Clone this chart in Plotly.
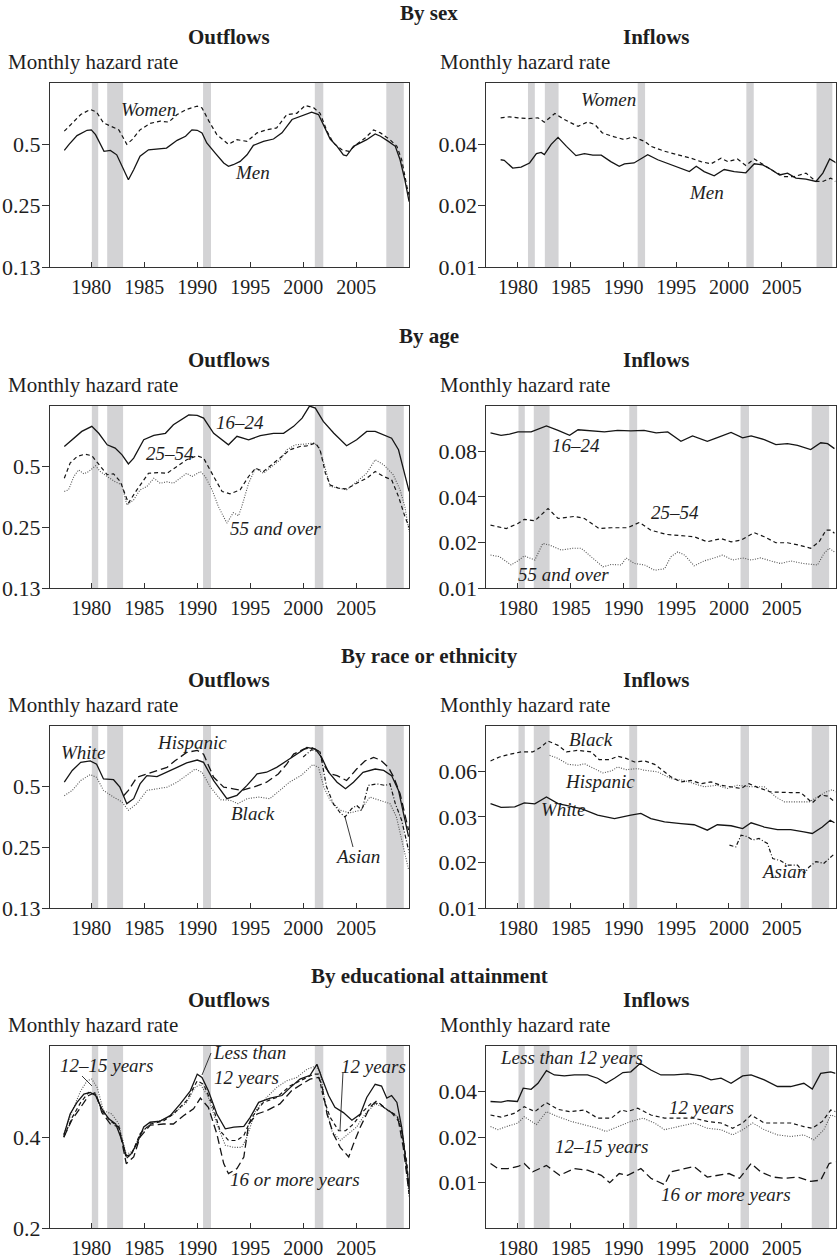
import math
import plotly.graph_objects as go

W, H = 838, 1260
FONT = "Liberation Serif, Times New Roman, serif"
TXT = "#1e1e1e"
SHADE = "#d3d3d5"

# ---------------- data ----------------
YEAR_TICKS = [1980, 1985, 1990, 1995, 2000, 2005]
RECESSIONS = [(1980.05, 1980.65), (1981.5, 1983.0), (1990.55, 1991.3), (2001.1, 2001.9), (2007.85, 2009.5)]
RECESSIONS_SEX_INFLOWS = [(1980.95, 1981.6), (1982.55, 1983.85), (1991.35, 1992.05), (2001.65, 2002.35), (2008.3, 2009.8)]

OUT_TICKS = [0.125, 0.25, 0.5]
OUT_TICKTEXT = ["0.13", "0.25", "0.5"]
SEX_IN_TICKS = [0.01, 0.02, 0.04]
SEX_IN_TICKTEXT = ["0.01", "0.02", "0.04"]
AGE_IN_TICKS = [0.01, 0.02, 0.04, 0.08]
AGE_IN_TICKTEXT = ["0.01", "0.02", "0.04", "0.08"]
RACE_IN_TICKS = [0.0075, 0.015, 0.03, 0.06]
RACE_IN_TICKTEXT = ["0.01", "0.02", "0.03", "0.06"]
EDU_OUT_TICKS = [0.2, 0.4]
EDU_OUT_TICKTEXT = ["0.2", "0.4"]
EDU_IN_TICKS = [0.01, 0.02, 0.04]
EDU_IN_TICKTEXT = ["0.01", "0.02", "0.04"]

# By sex, outflows
sex_out_men = [(1977.45, 0.467), (1977.9, 0.5), (1978.65, 0.552), (1979.6, 0.586), (1980.0, 0.589), (1980.4, 0.558),
               (1981.2, 0.462), (1981.8, 0.467), (1982.4, 0.444), (1982.9, 0.39), (1983.5, 0.335), (1984.0, 0.375),
               (1984.6, 0.437), (1985.4, 0.47), (1986.2, 0.476), (1987.1, 0.479), (1988.1, 0.523), (1988.9, 0.548),
               (1989.5, 0.589), (1990.0, 0.586), (1990.45, 0.569), (1990.9, 0.508), (1991.7, 0.453), (1992.5, 0.405),
               (1992.95, 0.39), (1993.4, 0.397), (1994.05, 0.412), (1994.7, 0.444), (1995.3, 0.494), (1996.25, 0.517),
               (1997.2, 0.531), (1998.0, 0.569), (1998.95, 0.662), (1999.7, 0.687), (2000.8, 0.72), (2001.45, 0.70),
               (2001.9, 0.625), (2002.55, 0.531), (2003.2, 0.489), (2003.8, 0.444), (2004.1, 0.439), (2004.75, 0.489),
               (2005.4, 0.508), (2006.0, 0.527), (2006.8, 0.562), (2007.3, 0.548), (2008.05, 0.517), (2008.7, 0.489),
               (2009.15, 0.42), (2009.6, 0.335), (2010.0, 0.262)]
sex_out_women = [(1977.45, 0.58), (1978.2, 0.637), (1979.0, 0.70), (1979.9, 0.742), (1980.5, 0.72), (1981.15, 0.637),
                 (1981.9, 0.614), (1982.6, 0.589), (1983.35, 0.50), (1983.85, 0.527), (1984.6, 0.589), (1985.55, 0.633),
                 (1986.5, 0.65), (1987.3, 0.643), (1988.1, 0.70), (1989.0, 0.742), (1990.0, 0.77), (1990.45, 0.755),
                 (1991.1, 0.65), (1991.85, 0.558), (1992.95, 0.50), (1993.75, 0.527), (1994.7, 0.517), (1995.65, 0.569),
                 (1996.55, 0.589), (1997.5, 0.602), (1998.45, 0.70), (1999.4, 0.71), (2000.2, 0.776), (2001.0, 0.755),
                 (2001.6, 0.71), (2002.25, 0.58), (2002.85, 0.508), (2003.65, 0.47), (2004.3, 0.462), (2005.05, 0.50),
                 (2005.85, 0.537), (2006.65, 0.589), (2007.3, 0.569), (2008.2, 0.527), (2008.85, 0.489), (2009.3, 0.42),
                 (2009.8, 0.31), (2010.0, 0.282)]

# By sex, inflows
sex_in_women = [(1978.36, 0.054), (1979.2, 0.0546), (1980.0, 0.054), (1980.95, 0.0535), (1981.9, 0.054), (1982.5, 0.0514),
                (1983.5, 0.0567), (1984.4, 0.0529), (1985.7, 0.049), (1986.6, 0.0515), (1987.3, 0.05), (1988.0, 0.0455),
                (1989.15, 0.0435), (1990.1, 0.0422), (1990.9, 0.0435), (1992.0, 0.0414), (1992.6, 0.0391), (1993.9, 0.037),
                (1995.1, 0.0356), (1996.4, 0.0342), (1997.35, 0.0329), (1998.3, 0.0321), (1999.25, 0.0342), (1999.9, 0.0329),
                (2000.8, 0.0339), (2001.6, 0.0315), (2002.4, 0.0339), (2003.35, 0.0317), (2004.3, 0.0294), (2005.25, 0.0278),
                (2006.2, 0.0278), (2007.3, 0.0289), (2008.25, 0.0263), (2008.9, 0.0263), (2009.65, 0.0273), (2010.1, 0.0263)]
sex_in_men = [(1978.36, 0.0336), (1978.7, 0.0334), (1979.5, 0.0306), (1980.3, 0.0309), (1981.1, 0.0324), (1981.75, 0.036),
              (1982.2, 0.0365), (1982.5, 0.0356), (1983.15, 0.04), (1983.8, 0.0433), (1984.6, 0.0391), (1985.5, 0.0352),
              (1986.3, 0.036), (1987.1, 0.0354), (1987.9, 0.0354), (1988.8, 0.0329), (1989.6, 0.0312), (1990.1, 0.0321),
              (1991.0, 0.0324), (1992.3, 0.0356), (1993.25, 0.0336), (1994.5, 0.0317), (1995.45, 0.0306), (1996.25, 0.0294),
              (1996.9, 0.0312), (1997.65, 0.0294), (1998.6, 0.028), (1999.55, 0.0301), (2000.5, 0.0294), (2001.6, 0.029),
              (2002.4, 0.0321), (2003.2, 0.0317), (2004.0, 0.0301), (2004.8, 0.0283), (2005.55, 0.0289), (2006.35, 0.0273),
              (2007.3, 0.027), (2008.25, 0.0263), (2008.9, 0.0289), (2009.55, 0.0339), (2010.2, 0.0324)]

# By age, outflows
age_out_16_24 = [(1977.45, 0.628), (1978.2, 0.678), (1979.1, 0.746), (1980.05, 0.79), (1980.7, 0.73), (1981.5, 0.64),
                 (1982.25, 0.617), (1982.9, 0.571), (1983.5, 0.515), (1984.0, 0.55), (1984.95, 0.678), (1985.9, 0.712),
                 (1987.0, 0.73), (1987.75, 0.805), (1989.2, 0.9), (1990.0, 0.895), (1990.6, 0.868), (1991.55, 0.73),
                 (1992.95, 0.64), (1993.75, 0.705), (1994.85, 0.678), (1995.95, 0.71), (1997.2, 0.73), (1998.15, 0.73),
                 (1999.1, 0.79), (1999.9, 0.868), (2000.6, 0.995), (2001.15, 0.973), (2001.9, 0.836), (2002.9, 0.73),
                 (2004.1, 0.633), (2005.05, 0.678), (2006.0, 0.746), (2006.8, 0.746), (2007.6, 0.718), (2008.35, 0.69),
                 (2009.0, 0.605), (2009.45, 0.481), (2010.0, 0.376)]
age_out_25_54 = [(1977.45, 0.437), (1978.0, 0.52), (1978.65, 0.56), (1979.4, 0.575), (1980.05, 0.565), (1980.7, 0.51),
                 (1981.5, 0.455), (1982.1, 0.46), (1982.75, 0.42), (1983.5, 0.329), (1984.3, 0.383), (1985.4, 0.463),
                 (1986.35, 0.466), (1987.15, 0.463), (1988.1, 0.5), (1989.0, 0.54), (1990.0, 0.565), (1990.6, 0.55),
                 (1991.55, 0.446), (1992.35, 0.376), (1993.1, 0.366), (1994.05, 0.383), (1994.85, 0.446), (1995.5, 0.49),
                 (1996.25, 0.472), (1997.05, 0.51), (1997.85, 0.55), (1998.75, 0.605), (1999.7, 0.628), (2000.35, 0.633),
                 (2001.15, 0.653), (2001.6, 0.605), (2002.1, 0.463), (2002.55, 0.405), (2003.35, 0.39), (2004.1, 0.387),
                 (2005.05, 0.413), (2006.0, 0.437), (2006.8, 0.472), (2007.6, 0.446), (2008.35, 0.43), (2009.0, 0.355),
                 (2009.6, 0.283), (2010.0, 0.25)]
age_out_55 = [(1977.45, 0.376), (1977.85, 0.383), (1978.35, 0.446), (1978.8, 0.481), (1979.3, 0.46), (1979.75, 0.472),
              (1980.4, 0.504), (1980.85, 0.472), (1981.5, 0.446), (1982.25, 0.42), (1982.9, 0.405), (1983.35, 0.322),
              (1984.0, 0.342), (1984.6, 0.383), (1985.25, 0.398), (1985.9, 0.437), (1986.5, 0.413), (1987.15, 0.42),
              (1987.75, 0.413), (1988.55, 0.446), (1989.0, 0.463), (1989.5, 0.446), (1990.3, 0.472), (1990.75, 0.446),
              (1991.4, 0.383), (1992.0, 0.316), (1992.8, 0.262), (1993.4, 0.295), (1993.9, 0.285), (1994.2, 0.316),
              (1994.85, 0.413), (1995.5, 0.49), (1996.25, 0.463), (1997.05, 0.5), (1997.85, 0.54), (1998.45, 0.605),
              (1999.25, 0.64), (2000.05, 0.645), (2001.0, 0.653), (2001.45, 0.628), (2001.95, 0.52), (2002.55, 0.398),
              (2003.35, 0.39), (2004.1, 0.383), (2005.05, 0.42), (2006.0, 0.463), (2006.8, 0.54), (2007.6, 0.51),
              (2008.5, 0.455), (2009.15, 0.383), (2009.6, 0.316), (2010.0, 0.238)]

# By age, inflows
age_in_16_24 = [(1977.4, 0.1057), (1978.4, 0.102), (1979.2, 0.1037), (1980.0, 0.1073), (1981.25, 0.1073), (1982.7, 0.1175),
                (1983.8, 0.11), (1984.9, 0.102), (1985.7, 0.111), (1986.95, 0.109), (1988.2, 0.1073), (1989.45, 0.11),
                (1990.7, 0.109), (1991.95, 0.11), (1993.1, 0.1057), (1994.2, 0.1073), (1995.45, 0.0931), (1996.55, 0.101),
                (1997.95, 0.0931), (1998.9, 0.0984), (2000.2, 0.1065), (2001.3, 0.098), (2002.1, 0.101), (2003.35, 0.0955),
                (2004.45, 0.0885), (2005.55, 0.0898), (2006.5, 0.0876), (2007.75, 0.082), (2008.7, 0.091), (2009.35, 0.0898),
                (2010.0, 0.0833)]
age_in_25_54 = [(1977.4, 0.026), (1978.9, 0.0247), (1980.0, 0.0267), (1980.6, 0.0284), (1981.6, 0.0278), (1982.85, 0.0335),
                (1983.8, 0.0288), (1985.35, 0.0297), (1986.3, 0.0288), (1987.7, 0.0247), (1988.85, 0.025), (1990.4, 0.025),
                (1991.5, 0.0271), (1992.6, 0.0241), (1994.05, 0.0226), (1995.45, 0.0221), (1996.7, 0.0218), (1997.95, 0.0202),
                (1999.25, 0.0212), (2000.2, 0.0202), (2001.15, 0.0207), (2002.4, 0.0232), (2003.35, 0.0218), (2004.45, 0.0199),
                (2005.55, 0.0199), (2006.65, 0.0192), (2007.75, 0.0183), (2008.55, 0.0202), (2009.2, 0.0241), (2009.65, 0.0241),
                (2010.0, 0.023)]
age_in_55 = [(1977.4, 0.0165), (1978.25, 0.0161), (1979.35, 0.0142), (1980.0, 0.0151), (1980.6, 0.0163), (1981.6, 0.0153),
             (1982.35, 0.0197), (1983.0, 0.0192), (1984.1, 0.0178), (1985.2, 0.0183), (1986.0, 0.0183), (1987.25, 0.0153),
             (1988.05, 0.0138), (1988.85, 0.0143), (1989.8, 0.0142), (1990.25, 0.0158), (1991.05, 0.0145), (1992.0, 0.0142),
             (1992.95, 0.0131), (1993.9, 0.0134), (1994.5, 0.0161), (1995.15, 0.0173), (1995.8, 0.0165), (1996.7, 0.014),
             (1997.65, 0.0151), (1998.6, 0.0158), (1999.4, 0.0165), (2000.35, 0.0153), (2001.3, 0.0158), (2002.1, 0.0153),
             (2003.0, 0.0158), (2003.95, 0.0151), (2004.9, 0.0145), (2005.85, 0.0151), (2007.1, 0.0145), (2008.4, 0.0142),
             (2009.0, 0.0169), (2009.5, 0.0183), (2010.0, 0.0173)]

# By race or ethnicity, outflows
race_out_white = [(1977.45, 0.525), (1978.2, 0.6), (1979.0, 0.658), (1979.9, 0.67), (1980.5, 0.645), (1981.15, 0.545),
                  (1982.1, 0.54), (1982.7, 0.496), (1983.35, 0.411), (1984.0, 0.435), (1984.6, 0.515), (1985.25, 0.566),
                  (1986.2, 0.56), (1987.15, 0.588), (1988.1, 0.622), (1989.0, 0.654), (1990.0, 0.676), (1990.6, 0.658),
                  (1991.55, 0.535), (1992.8, 0.435), (1993.75, 0.452), (1994.7, 0.506), (1995.65, 0.577), (1996.55, 0.588),
                  (1997.5, 0.622), (1998.45, 0.67), (1999.4, 0.723), (2000.35, 0.78), (2001.15, 0.765), (2001.75, 0.696),
                  (2002.4, 0.588), (2003.2, 0.525), (2004.0, 0.487), (2004.75, 0.525), (2005.65, 0.588), (2006.8, 0.61),
                  (2007.6, 0.6), (2008.35, 0.566), (2009.0, 0.478), (2009.45, 0.367), (2009.95, 0.282)]
race_out_hispanic = [(1983.05, 0.45), (1983.5, 0.478), (1984.3, 0.555), (1985.25, 0.577), (1986.2, 0.6), (1987.15, 0.622),
                     (1987.9, 0.67), (1989.0, 0.737), (1990.0, 0.755), (1990.6, 0.723), (1991.55, 0.555), (1992.5, 0.496),
                     (1993.4, 0.487), (1994.2, 0.478), (1995.3, 0.496), (1996.55, 0.525), (1997.65, 0.577), (1998.45, 0.645),
                     (1999.1, 0.723), (2000.05, 0.765), (2000.8, 0.78), (2001.45, 0.75), (2002.1, 0.622), (2002.55, 0.577),
                     (2003.2, 0.566), (2004.1, 0.535), (2005.05, 0.61), (2005.85, 0.67), (2006.65, 0.696), (2007.3, 0.676),
                     (2008.05, 0.622), (2008.55, 0.555), (2009.15, 0.46), (2009.8, 0.328), (2009.95, 0.304)]
race_out_black = [(1977.45, 0.45), (1978.2, 0.478), (1979.0, 0.535), (1979.9, 0.573), (1980.5, 0.555), (1981.15, 0.478),
                  (1982.1, 0.443), (1982.9, 0.419), (1983.5, 0.381), (1984.3, 0.411), (1985.25, 0.478), (1986.2, 0.487),
                  (1987.15, 0.496), (1988.1, 0.525), (1989.0, 0.566), (1989.8, 0.61), (1990.45, 0.588), (1991.25, 0.496),
                  (1992.2, 0.43), (1993.1, 0.427), (1993.85, 0.411), (1994.7, 0.435), (1995.8, 0.443), (1996.85, 0.435),
                  (1997.8, 0.478), (1998.7, 0.525), (1999.8, 0.566), (2000.9, 0.641), (2001.45, 0.622), (2001.95, 0.496),
                  (2002.55, 0.427), (2003.5, 0.381), (2004.4, 0.37), (2005.4, 0.381), (2006.3, 0.443), (2007.3, 0.427),
                  (2008.2, 0.411), (2008.8, 0.354), (2009.3, 0.271), (2009.95, 0.194)]
race_out_asian = [(2000.0, 0.70), (2000.8, 0.76), (2001.6, 0.74), (2002.2, 0.50), (2002.85, 0.41), (2003.5, 0.37),
                  (2003.95, 0.353), (2004.6, 0.389), (2005.05, 0.403), (2005.55, 0.381), (2006.15, 0.506), (2006.95, 0.515),
                  (2007.75, 0.506), (2008.2, 0.515), (2008.7, 0.411), (2009.3, 0.34), (2009.8, 0.262), (2010.0, 0.235)]

# By race or ethnicity, inflows
race_in_black = [(1977.4, 0.0702), (1978.25, 0.0746), (1979.2, 0.0776), (1980.3, 0.0805), (1981.4, 0.0805), (1982.2, 0.0868),
                 (1982.85, 0.0951), (1983.8, 0.089), (1984.6, 0.0805), (1985.7, 0.0825), (1986.95, 0.0805), (1987.7, 0.0716),
                 (1988.7, 0.0716), (1989.45, 0.0754), (1990.25, 0.073), (1991.05, 0.0691), (1992.0, 0.0702), (1992.95, 0.0667),
                 (1993.7, 0.0609), (1994.5, 0.0551), (1995.45, 0.051), (1996.4, 0.0522), (1997.35, 0.0497), (1998.3, 0.051),
                 (1999.25, 0.0485), (2000.2, 0.0474), (2001.15, 0.0462), (2001.9, 0.0497), (2002.7, 0.047), (2003.95, 0.0438),
                 (2004.9, 0.0434), (2005.85, 0.0434), (2006.8, 0.0434), (2007.9, 0.0371), (2008.7, 0.0418), (2009.35, 0.0411),
                 (2010.0, 0.0378)]
race_in_hispanic = [(1983.0, 0.0765), (1983.8, 0.073), (1984.75, 0.0667), (1985.7, 0.0657), (1986.3, 0.0673), (1987.25, 0.0625),
                    (1988.05, 0.0585), (1988.85, 0.0603), (1989.45, 0.064), (1990.25, 0.0615), (1991.35, 0.0625), (1992.0, 0.0609),
                    (1993.25, 0.0595), (1994.5, 0.0537), (1995.75, 0.0522), (1996.7, 0.0497), (1997.65, 0.0474), (1998.9, 0.0485),
                    (1999.85, 0.0462), (2000.8, 0.0485), (2002.1, 0.0474), (2003.35, 0.0474), (2004.45, 0.0406), (2005.25, 0.0377),
                    (2006.5, 0.0377), (2007.6, 0.0377), (2008.4, 0.0406), (2009.2, 0.0438), (2009.8, 0.0454), (2010.1, 0.0438)]
race_in_white = [(1977.4, 0.0367), (1978.4, 0.0346), (1979.7, 0.0349), (1980.6, 0.0371), (1981.6, 0.0366), (1982.7, 0.0406),
                 (1983.8, 0.0367), (1984.9, 0.0353), (1986.0, 0.034), (1987.55, 0.0308), (1989.15, 0.0292), (1990.7, 0.0308),
                 (1991.65, 0.0316), (1992.6, 0.0292), (1993.9, 0.0278), (1995.45, 0.0271), (1996.7, 0.0266), (1997.95, 0.0245),
                 (1998.9, 0.0266), (2000.2, 0.0262), (2001.3, 0.0251), (2002.1, 0.0274), (2003.35, 0.0257), (2004.6, 0.0247),
                 (2005.85, 0.0247), (2007.1, 0.0239), (2007.9, 0.0233), (2008.85, 0.0257), (2009.6, 0.0285), (2010.0, 0.0274)]
race_in_asian = [(2000.05, 0.0195), (2000.65, 0.019), (2001.15, 0.0227), (2001.75, 0.0222), (2002.25, 0.0211), (2002.85, 0.0216),
                 (2003.65, 0.02), (2004.15, 0.0159), (2004.9, 0.0154), (2005.55, 0.0144), (2006.5, 0.0144), (2007.15, 0.0127),
                 (2007.6, 0.014), (2008.25, 0.0152), (2009.0, 0.0148), (2009.65, 0.0163), (2010.0, 0.0171)]

# By educational attainment, outflows
edu_out_lt12 = [(1977.4, 0.405), (1978.0, 0.477), (1978.65, 0.521), (1979.3, 0.555), (1979.9, 0.562), (1980.4, 0.549),
                (1981.0, 0.496), (1981.65, 0.46), (1982.3, 0.442), (1982.9, 0.39), (1983.3, 0.346), (1983.7, 0.35),
                (1984.3, 0.38), (1984.95, 0.432), (1985.55, 0.448), (1986.5, 0.452), (1987.45, 0.471), (1988.4, 0.515),
                (1989.35, 0.569), (1990.0, 0.646), (1990.45, 0.63), (1991.05, 0.569), (1991.85, 0.477), (1992.65, 0.426),
                (1993.45, 0.432), (1994.4, 0.434), (1995.0, 0.465), (1995.8, 0.521), (1996.9, 0.538), (1998.0, 0.549),
                (1998.8, 0.584), (1999.7, 0.622), (2000.65, 0.64), (2001.3, 0.696), (2001.75, 0.63), (2002.4, 0.549),
                (2003.0, 0.502), (2003.8, 0.482), (2004.6, 0.455), (2005.4, 0.477), (2006.0, 0.541), (2006.8, 0.598),
                (2007.4, 0.59), (2007.9, 0.538), (2008.35, 0.549), (2008.85, 0.521), (2009.3, 0.432), (2009.8, 0.319),
                (2010.0, 0.274)]
edu_out_12 = [(1977.4, 0.4), (1978.2, 0.465), (1979.0, 0.521), (1979.75, 0.562), (1980.4, 0.555), (1981.0, 0.489),
              (1981.8, 0.452), (1982.6, 0.432), (1983.3, 0.34), (1983.85, 0.354), (1984.6, 0.41), (1985.55, 0.442),
              (1986.8, 0.452), (1987.75, 0.477), (1989.0, 0.528), (1990.0, 0.614), (1990.6, 0.598), (1991.4, 0.515),
              (1992.15, 0.42), (1992.95, 0.39), (1993.75, 0.39), (1994.4, 0.405), (1995.15, 0.465), (1996.25, 0.521),
              (1997.5, 0.541), (1998.75, 0.59), (2000.05, 0.622), (2001.0, 0.646), (2001.45, 0.646), (2001.9, 0.541),
              (2002.55, 0.465), (2003.35, 0.42), (2004.0, 0.42), (2004.75, 0.442), (2005.55, 0.482), (2006.5, 0.521),
              (2007.25, 0.515), (2008.05, 0.489), (2008.85, 0.471), (2009.3, 0.42), (2009.8, 0.327), (2010.0, 0.267)]
edu_out_12_15 = [(1977.4, 0.41), (1978.2, 0.489), (1979.0, 0.569), (1979.6, 0.614), (1980.05, 0.622), (1980.55, 0.584),
                 (1981.15, 0.489), (1981.95, 0.477), (1982.6, 0.442), (1983.3, 0.35), (1984.0, 0.362), (1984.6, 0.41),
                 (1985.55, 0.442), (1986.8, 0.458), (1987.75, 0.477), (1989.0, 0.521), (1989.8, 0.584), (1990.3, 0.598),
                 (1991.05, 0.541), (1991.85, 0.442), (1992.65, 0.376), (1993.45, 0.37), (1994.2, 0.37), (1994.7, 0.4),
                 (1995.5, 0.489), (1996.55, 0.541), (1997.5, 0.584), (1998.45, 0.614), (1999.4, 0.63), (2000.35, 0.67),
                 (2001.15, 0.686), (2001.6, 0.66), (2002.1, 0.515), (2002.7, 0.42), (2003.5, 0.39), (2004.3, 0.41),
                 (2005.05, 0.432), (2005.85, 0.477), (2006.8, 0.515), (2007.6, 0.502), (2008.35, 0.482), (2009.0, 0.465),
                 (2009.45, 0.4), (2010.0, 0.254)]
edu_out_16 = [(1977.4, 0.4), (1978.2, 0.458), (1979.0, 0.502), (1979.75, 0.549), (1980.4, 0.562), (1981.0, 0.482),
              (1981.8, 0.442), (1982.6, 0.432), (1983.3, 0.327), (1984.0, 0.344), (1984.6, 0.4), (1985.55, 0.438),
              (1986.8, 0.442), (1987.75, 0.442), (1988.7, 0.471), (1989.65, 0.496), (1990.3, 0.538), (1991.05, 0.502),
              (1991.85, 0.41), (1992.5, 0.327), (1992.95, 0.303), (1993.75, 0.315), (1994.4, 0.344), (1994.85, 0.442),
              (1995.65, 0.477), (1996.55, 0.489), (1997.8, 0.515), (1998.9, 0.569), (1999.85, 0.598), (2000.65, 0.622),
              (2001.45, 0.63), (2001.75, 0.598), (2002.25, 0.477), (2002.85, 0.41), (2003.5, 0.37), (2004.3, 0.344),
              (2004.75, 0.38), (2005.4, 0.432), (2006.3, 0.502), (2006.95, 0.528), (2007.6, 0.502), (2008.35, 0.482),
              (2009.0, 0.452), (2009.45, 0.37), (2010.0, 0.26)]

# By educational attainment, inflows
edu_in_lt12 = [(1977.4, 0.0344), (1978.4, 0.0341), (1979.05, 0.0348), (1979.95, 0.0344), (1980.5, 0.0421), (1981.25, 0.0414),
               (1981.9, 0.0454), (1982.7, 0.055), (1983.45, 0.0515), (1984.4, 0.0508), (1985.35, 0.0515), (1986.6, 0.0515),
               (1987.55, 0.049), (1988.35, 0.0454), (1989.15, 0.049), (1989.95, 0.0534), (1990.7, 0.054), (1991.6, 0.0615),
               (1992.6, 0.0555), (1993.55, 0.0515), (1994.8, 0.0515), (1996.1, 0.0524), (1997.35, 0.0508), (1998.3, 0.0478),
               (1999.25, 0.049), (2000.2, 0.0454), (2001.3, 0.0508), (2002.1, 0.0515), (2003.35, 0.0478), (2004.6, 0.0432),
               (2005.85, 0.0432), (2007.1, 0.0454), (2007.9, 0.0416), (2008.7, 0.0528), (2009.65, 0.054), (2010.1, 0.0528)]
edu_in_12 = [(1977.4, 0.028), (1978.4, 0.0271), (1979.7, 0.0288), (1980.6, 0.0318), (1981.6, 0.0295), (1982.7, 0.0338),
             (1983.8, 0.0305), (1984.9, 0.0295), (1986.3, 0.0302), (1987.55, 0.0267), (1988.85, 0.0267), (1989.8, 0.0302),
             (1990.4, 0.0295), (1991.35, 0.0311), (1992.6, 0.028), (1993.9, 0.0267), (1995.45, 0.0267), (1996.7, 0.0267),
             (1997.95, 0.0254), (1999.25, 0.0248), (2000.35, 0.0229), (2001.3, 0.0248), (2002.1, 0.028), (2003.35, 0.0248),
             (2004.6, 0.0248), (2005.85, 0.0248), (2007.1, 0.0235), (2007.9, 0.0229), (2008.85, 0.0254), (2009.65, 0.0302),
             (2010.1, 0.0295)]
edu_in_12_15 = [(1977.4, 0.0235), (1978.1, 0.0224), (1978.9, 0.0235), (1980.0, 0.0248), (1980.6, 0.0273), (1981.75, 0.0242),
                (1982.7, 0.0295), (1983.8, 0.0273), (1985.05, 0.0254), (1986.3, 0.0242), (1987.55, 0.0229), (1988.35, 0.0218),
                (1989.45, 0.0235), (1990.7, 0.0254), (1991.85, 0.0267), (1992.95, 0.0248), (1993.9, 0.0224), (1995.15, 0.0235),
                (1996.7, 0.0248), (1997.95, 0.0229), (1999.25, 0.0224), (2000.35, 0.0207), (2001.3, 0.0224), (2002.25, 0.0248),
                (2003.35, 0.0224), (2004.6, 0.0207), (2005.85, 0.0202), (2007.1, 0.0207), (2008.05, 0.0192), (2009.0, 0.0224),
                (2009.65, 0.028), (2010.1, 0.0273)]
edu_in_16 = [(1977.4, 0.0134), (1978.1, 0.0124), (1979.05, 0.0124), (1980.0, 0.0128), (1980.6, 0.0134), (1981.4, 0.0118),
             (1982.7, 0.013), (1983.95, 0.0112), (1985.35, 0.0124), (1986.6, 0.0121), (1987.9, 0.0112), (1988.7, 0.01),
             (1989.6, 0.0115), (1990.4, 0.0112), (1991.65, 0.0124), (1992.6, 0.0107), (1993.9, 0.0097), (1994.5, 0.0118),
             (1995.8, 0.0124), (1996.7, 0.0128), (1997.95, 0.0109), (1999.05, 0.0112), (2000.0, 0.0115), (2001.0, 0.0107),
             (2002.1, 0.0134), (2003.0, 0.0118), (2004.15, 0.0109), (2005.25, 0.0107), (2006.5, 0.0109), (2007.75, 0.0102),
             (2008.7, 0.0104), (2009.5, 0.0134), (2010.1, 0.0138)]

# ---------------- styles ----------------
STYLES = {
    "solid": dict(color="#151515", width=1.3),
    "dash": dict(color="#151515", width=1.2, dash="4px,3px"),
    "dot": dict(color="#555555", width=1.1, dash="1px,1.5px"),
    "longdash": dict(color="#151515", width=1.3, dash="8px,4px"),
    "dashdot": dict(color="#151515", width=1.2, dash="4px,2px,1px,2px"),
}

# layout geometry (pixels)
LEFT_X = (50, 409.3)
RIGHT_X = (486.3, 835.5)
ROW_TOP = [83, 405.7, 725.7, 1046]
ROW_BOT = [267, 588, 908, 1228.3]
LEFT_RANGE = [1976.1, 2010.02]
RIGHT_RANGE = [1977.0, 2010.1]

panels = [
    dict(row=0, side="L", yr=(0.125, 1.0), ticks=(OUT_TICKS, OUT_TICKTEXT), rec=RECESSIONS,
         series=[(sex_out_women, "dash"), (sex_out_men, "solid")]),
    dict(row=0, side="R", yr=(0.01, 0.08), ticks=(SEX_IN_TICKS, SEX_IN_TICKTEXT), rec=RECESSIONS_SEX_INFLOWS,
         series=[(sex_in_women, "dash"), (sex_in_men, "solid")]),
    dict(row=1, side="L", yr=(0.125, 1.0), ticks=(OUT_TICKS, OUT_TICKTEXT), rec=RECESSIONS,
         series=[(age_out_55, "dot"), (age_out_25_54, "dash"), (age_out_16_24, "solid")]),
    dict(row=1, side="R", yr=(0.01, 0.16), ticks=(AGE_IN_TICKS, AGE_IN_TICKTEXT), rec=RECESSIONS,
         series=[(age_in_55, "dot"), (age_in_25_54, "dash"), (age_in_16_24, "solid")]),
    dict(row=2, side="L", yr=(0.125, 1.0), ticks=(OUT_TICKS, OUT_TICKTEXT), rec=RECESSIONS,
         series=[(race_out_black, "dot"), (race_out_asian, "dashdot"), (race_out_hispanic, "longdash"), (race_out_white, "solid")]),
    dict(row=2, side="R", yr=(0.0075, 0.12), ticks=(RACE_IN_TICKS, RACE_IN_TICKTEXT), rec=RECESSIONS,
         series=[(race_in_hispanic, "dot"), (race_in_black, "dash"), (race_in_asian, "dashdot"), (race_in_white, "solid")]),
    dict(row=3, side="L", yr=(0.2, 0.8), ticks=(EDU_OUT_TICKS, EDU_OUT_TICKTEXT), rec=RECESSIONS,
         series=[(edu_out_12_15, "dot"), (edu_out_16, "longdash"), (edu_out_12, "dash"), (edu_out_lt12, "solid")]),
    dict(row=3, side="R", yr=(0.005, 0.08), ticks=(EDU_IN_TICKS, EDU_IN_TICKTEXT), rec=RECESSIONS,
         series=[(edu_in_12_15, "dot"), (edu_in_16, "longdash"), (edu_in_12, "dash"), (edu_in_lt12, "solid")]),
]


def px_x(p):
    return p / W


def px_y(p):
    return 1 - p / H


fig = go.Figure()
layout = {}
for i, p in enumerate(panels):
    n = i + 1
    xname = "x" if n == 1 else f"x{n}"
    yname = "y" if n == 1 else f"y{n}"
    xkey = "xaxis" if n == 1 else f"xaxis{n}"
    ykey = "yaxis" if n == 1 else f"yaxis{n}"
    xs_px = LEFT_X if p["side"] == "L" else RIGHT_X
    xr = LEFT_RANGE if p["side"] == "L" else RIGHT_RANGE
    r = p["row"]
    for pts, st in p["series"]:
        fig.add_trace(go.Scatter(x=[a for a, b in pts], y=[b for a, b in pts], mode="lines",
                                 line=STYLES[st], xaxis=xname, yaxis=yname,
                                 showlegend=False, hoverinfo="skip"))
    for a, b in p["rec"]:
        fig.add_shape(type="rect", xref=xname, yref=f"{yname} domain", x0=a, x1=b, y0=0, y1=1,
                      fillcolor=SHADE, line_width=0, layer="below")
    layout[xkey] = dict(domain=[px_x(xs_px[0]), px_x(xs_px[1])], range=xr, anchor=yname,
                        tickmode="array", tickvals=YEAR_TICKS, ticktext=[str(t) for t in YEAR_TICKS],
                        ticks="inside", ticklen=5, tickcolor="#333", tickwidth=1, ticklabelstandoff=2,
                        showline=True, mirror=True, linecolor="#333", linewidth=1,
                        showgrid=False, zeroline=False, automargin=False,
                        tickfont=dict(family=FONT, size=20, color=TXT))
    layout[ykey] = dict(domain=[px_y(ROW_BOT[r]), px_y(ROW_TOP[r])], type="log",
                        range=[math.log10(p["yr"][0]), math.log10(p["yr"][1])], anchor=xname,
                        tickmode="array", tickvals=p["ticks"][0], ticktext=p["ticks"][1],
                        ticks="outside", ticklen=7, tickcolor="#333", tickwidth=1, ticklabelstandoff=-3,
                        showline=True, mirror=True, linecolor="#333", linewidth=1,
                        showgrid=False, zeroline=False, automargin=False,
                        tickfont=dict(family=FONT, size=22, color=TXT))

annotations = []


def ann(text, x, y, size=21, xanchor="center", bold=False, italic=False, align="center"):
    t = text
    if bold:
        t = f"<b>{t}</b>"
    if italic:
        t = f"<i>{t}</i>"
    annotations.append(dict(text=t, x=px_x(x), y=px_y(y), xref="paper", yref="paper",
                            xanchor=xanchor, yanchor="middle", showarrow=False, align=align,
                            font=dict(family=FONT, size=size, color=TXT)))


SECTION_TITLES = ["By sex", "By age", "By race or ethnicity", "By educational attainment"]
for r, title in enumerate(SECTION_TITLES):
    top = ROW_TOP[r]
    ann(title, 429, top - 70, bold=True)
    ann("Outflows", 229, top - 46, bold=True)
    ann("Inflows", 656, top - 46, bold=True)
    ann("Monthly hazard rate", 6, top - 21, xanchor="left")
    ann("Monthly hazard rate", 438, top - 21, xanchor="left")

SERIES_LABELS = [
    ("Women", 148, 109), ("Men", 252, 173),
    ("Women", 608, 100), ("Men", 706, 192),
    ("16–24", 240, 423), ("25–54", 170, 453), ("55 and over", 275, 528),
    ("16–24", 576, 445), ("25–54", 675, 512), ("55 and over", 563, 575),
    ("White", 83, 752), ("Hispanic", 192, 742), ("Black", 253, 813), ("Asian", 357, 856),
    ("Black", 591, 739), ("Hispanic", 600, 781), ("White", 563, 809), ("Asian", 783, 871),
    ("12–15 years", 107, 1065), ("12 years", 373, 1066), ("16 or more years", 295, 1179),
    ("Less than 12 years", 571, 1057), ("12 years", 701, 1107), ("12–15 years", 601, 1146),
    ("16 or more years", 726, 1194),
]
for text, x, y in SERIES_LABELS:
    ann(text, x, y, size=19, italic=True)
ann("Less than<br>12 years", 211, 1065, size=19, italic=True, xanchor="left", align="left")

LEADERS = [((345, 817), (353, 847)), ((82, 1076), (92, 1086)), ((211, 1053), (202, 1075)), ((343, 1072), (340, 1130))]
for (x0, y0), (x1, y1) in LEADERS:
    fig.add_shape(type="line", xref="paper", yref="paper", x0=px_x(x0), y0=px_y(y0), x1=px_x(x1), y1=px_y(y1),
                  line=dict(color="#222", width=0.9))

fig.update_layout(width=W, height=H, margin=dict(l=0, r=0, t=0, b=0, pad=0, autoexpand=False),
                  paper_bgcolor="white", plot_bgcolor="white", showlegend=False,
                  annotations=annotations, **layout)
fig.write_html("out.html", config={"displayModeBar": False},
               post_script="document.body.style.margin='0px';document.body.style.padding='0px';")
